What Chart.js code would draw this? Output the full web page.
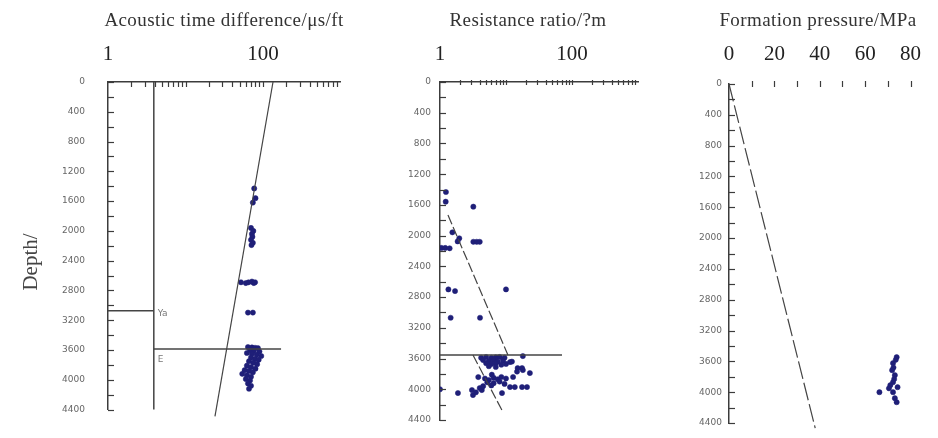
<!DOCTYPE html>
<html><head><meta charset="utf-8">
<script src="https://cdn.jsdelivr.net/npm/chart.js@4.4.1/dist/chart.umd.min.js"></script>
<style>
html,body{margin:0;padding:0;background:#fff;}
#wrap{position:relative;width:938px;height:438px;overflow:hidden;background:#fff;}
canvas{position:absolute;top:0;}
</style></head><body>
<div id="wrap">
<canvas id="c1" width="345" height="438" style="left:0"></canvas>
<canvas id="c2" width="305" height="438" style="left:345px"></canvas>
<canvas id="c3" width="288" height="438" style="left:650px"></canvas>
</div>
<script>
// ---------- data ----------
const depthTicks = [0,400,800,1200,1600,2000,2400,2800,3200,3600,4000,4400];
const depthTickLabels = ['0','400','800','1200','1600','2000','2400','2800','3200','3600','4000','4400'];
const depthMinorTicks = [0,200,400,600,800,1000,1200,1400,1600,1800,2000,2200,2400,2600,2800,3000,3200,3400,3600,3800,4000,4200,4400];
const logTickValues = [1,100];
const logTickLabels = ['1','100'];
const logMinorTicks = [2,3,4,5,6,7,8,9,10,20,30,40,50,60,70,80,90,100,200,300,400,500,600,700,800,900];
const pressureTickValues = [0,20,40,60,80];
const pressureTickLabels = ['0','20','40','60','80'];
const pressureMinorTicks = [10,20,30,40,50,60,70,80];

// Panel 1: acoustic time difference
const acousticValue = [77,80,74, 70,75,72,73,70,74,71, 52,60,65,72,76,79, 64,74,
  64,72,79,86,68,76,90,62,72,83,95,70,79,88,66,75,84,62,70,80,58,66,74,54,62,70,60,68,64,70,66];
const acousticDepth = [1430,1560,1620, 1960,2000,2040,2080,2120,2160,2190, 2690,2700,2690,2680,2700,2690, 3097,3097,
  3560,3565,3570,3575,3600,3610,3620,3640,3650,3660,3680,3700,3720,3730,3750,3770,3790,3810,3830,3850,3870,3880,3900,3920,3940,3960,3990,4010,4050,4080,4120];
const acousticTrendValue = [134.6, 24];
const acousticTrendDepth = [0, 4490];
const acousticBoundValue = [3.9, 3.9];
const acousticBoundDepth = [0, 4400];
const acousticTopValue = [1, 3.9];
const acousticTopDepth = [3071, 3071];
const acousticBaseValue = [3.9, 171];
const acousticBaseDepth = [3587, 3587];

// Panel 2: resistance ratio
const resistValue = [1.23,1.22,3.2,1.54,1.96,1.85,1.05,1.2,1.4,3.2,3.6,4.0,1.34,1.69,10,1.45,4.04,
  4.2,5,6,7,8,9.5,4.5,5.5,6.5,7.5,9,5,6,7,8.5,10,5.5,7,11.5,18,17.5,14.7,23,18,12.3,15,12.8,3.8,6.1,4.8,5.5,6.5,7.5,8.5,10,
  5.2,6.5,8,9.5,13.6,11.5,20.8,17.5,8.7,4.3,3.05,1.87,3.16,1.0,4.0,6,4.5,3.5];
const resistDepth = [1432,1558,1623,1957,2035,2075,2160,2160,2165,2080,2080,2080,2700,2722,2700,3069,3069,
  3590,3580,3590,3585,3580,3590,3620,3630,3620,3640,3625,3660,3670,3660,3680,3670,3700,3710,3646,3568,3724,3770,3789,3750,3640,3724,3840,3841,3810,3860,3880,3850,3870,3840,3860,
  3910,3920,3900,3930,3971,3971,3971,3971,4049,4010,4010,4049,4075,4000,3984,3950,3960,4040];
const resistTrendValue = [1.32, 10.7];
const resistTrendDepth = [1732, 3555];
const resistTrend2Value = [3.16, 9.0];
const resistTrend2Depth = [3555, 4297];
const resistBaseValue = [1, 70.5];
const resistBaseDepth = [3555, 3555];

// Panel 3: formation pressure
const pressureValue = [73.9,73.5,72.3,72.5,71.9,73.1,72.8,72.3,71.1,74.3,70.5,72.3,66.3,73.1,73.9];
const pressureDepth = [3545,3580,3623,3680,3714,3779,3830,3870,3909,3935,3950,4000,4000,4078,4130];
const hydroValue = [0, 38];
const hydroDepth = [0, 4467];

// ---------- helpers ----------
const pts = (xs, ys) => xs.map((v, i) => ({x: v, y: ys[i]}));
const AX = '#3c3c3c';
const PT = '#1f1f78';

const decor = {
  id: 'decor',
  afterDraw(chart, args, o) {
    const ctx = chart.ctx, xs = chart.scales.x, ys = chart.scales.y, ca = chart.chartArea;
    ctx.save();
    ctx.strokeStyle = AX; ctx.lineWidth = 1.2;
    (o.yTicks || []).forEach(v => {
      const y = Math.round(ys.getPixelForValue(v)) + 0.5;
      ctx.beginPath(); ctx.moveTo(ca.left, y); ctx.lineTo(ca.left + 6, y); ctx.stroke();
    });
    (o.xTicks || []).forEach(v => {
      const x = Math.round(xs.getPixelForValue(v)) + 0.5;
      ctx.beginPath(); ctx.moveTo(x, ca.top - o.xUp); ctx.lineTo(x, ca.top + o.xDown); ctx.stroke();
    });
    (o.texts || []).forEach(t => {
      ctx.save();
      ctx.font = t.font; ctx.fillStyle = t.color; ctx.textAlign = t.align || 'center';
      ctx.textBaseline = t.baseline || 'alphabetic';
      if (t.spacing) ctx.letterSpacing = t.spacing;
      let x = t.x, y = t.y;
      if (t.vx !== undefined) { x = xs.getPixelForValue(t.vx) + t.dx; y = ys.getPixelForValue(t.vy) + t.dy; }
      ctx.translate(x, y);
      if (t.rot) ctx.rotate(t.rot);
      ctx.fillText(t.text, 0, 0);
      ctx.restore();
    });
    ctx.restore();
  }
};

function yScale(width, pad) {
  return {
    type: 'linear', reverse: true, min: 0, max: 4400,
    afterBuildTicks: s => { s.ticks = depthTicks.map(v => ({value: v})); },
    ticks: {callback: (v) => depthTickLabels[depthTicks.indexOf(v)],
      font: {family: 'DejaVu Sans', size: 9}, color: '#666', padding: pad, autoSkip: false},
    grid: {display: false, drawTicks: false},
    border: {display: true, color: AX, width: 1.5},
    afterFit: s => { s.width = width; }
  };
}
function logXScale(height, pad) {
  return {
    type: 'logarithmic', position: 'top', min: 1, max: 1000,
    afterBuildTicks: s => { s.ticks = logTickValues.map(v => ({value: v})); },
    ticks: {callback: (v) => logTickLabels[logTickValues.indexOf(v)], font: {family: 'Liberation Serif', size: 21},
      color: '#222', padding: pad, maxRotation: 0, autoSkip: false},
    grid: {display: false, drawTicks: false},
    border: {display: true, color: AX, width: 1.5},
    afterFit: s => { s.height = height; }
  };
}
function lineDs(xv, yv, dash, w) {
  return {data: pts(xv, yv), showLine: true, pointRadius: 0, borderColor: '#444', borderWidth: w || 1.2,
    borderDash: dash || [], clip: false, fill: false};
}
function ptDs(xv, yv) {
  return {data: pts(xv, yv), pointRadius: 2.6, pointBackgroundColor: PT, pointBorderColor: PT, pointBorderWidth: 0.5, showLine: false};
}
const common = {responsive: false, animation: false, devicePixelRatio: 1};
const TITLE_FONT = '19px "Liberation Serif"';

// ---------- chart 1 ----------
new Chart(document.getElementById('c1'), {
  type: 'scatter',
  data: {datasets: [
    lineDs(acousticTrendValue, acousticTrendDepth, [], 1.2),
    lineDs(acousticBoundValue, acousticBoundDepth, [], 1.5),
    lineDs(acousticTopValue, acousticTopDepth, [], 1.5),
    lineDs(acousticBaseValue, acousticBaseDepth, [], 1.5),
    ptDs(acousticValue, acousticDepth)
  ]},
  options: Object.assign({}, common, {
    layout: {padding: {left: 0, right: 4.5, top: 0, bottom: 15}},
    scales: {x: logXScale(82, 15), y: yScale(108, 23)},
    plugins: {legend: {display: false}, tooltip: {enabled: false},
      decor: {yTicks: depthMinorTicks, xTicks: logMinorTicks, xUp: 0, xDown: 5, texts: [
        {text: 'Acoustic time difference/\u03bcs/ft', x: 224, y: 26, font: TITLE_FONT, spacing: '0.4px', color: '#333'},
        {text: 'Depth/', x: 37, y: 262, rot: -Math.PI / 2, font: '21px "Liberation Serif"', color: '#444'},
        {text: 'Ya', vx: 3.9, vy: 3071, dx: 4, dy: 5, align: 'left', font: '9px "DejaVu Sans"', color: '#777'},
        {text: 'E', vx: 3.9, vy: 3587, dx: 4, dy: 13, align: 'left', font: '9px "DejaVu Sans"', color: '#777'}
      ]}}
  }),
  plugins: [decor]
});

// ---------- chart 2 ----------
new Chart(document.getElementById('c2'), {
  type: 'scatter',
  data: {datasets: [
    lineDs(resistTrendValue, resistTrendDepth, [10, 3], 1.2),
    lineDs(resistTrend2Value, resistTrend2Depth, [10, 3], 1.2),
    lineDs(resistBaseValue, resistBaseDepth, [], 1.5),
    ptDs(resistValue, resistDepth)
  ]},
  options: Object.assign({}, common, {
    layout: {padding: {left: 0, right: 12, top: 0, bottom: 18}},
    scales: {x: logXScale(82, 15), y: yScale(95, 9)},
    plugins: {legend: {display: false}, tooltip: {enabled: false},
      decor: {yTicks: depthMinorTicks, xTicks: logMinorTicks, xUp: 2, xDown: 3, texts: [
        {text: 'Resistance ratio/?m', x: 183, y: 26, font: TITLE_FONT, spacing: '0.4px', color: '#333'}
      ]}}
  }),
  plugins: [decor]
});

// ---------- chart 3 ----------
new Chart(document.getElementById('c3'), {
  type: 'scatter',
  data: {datasets: [
    lineDs(hydroValue, hydroDepth, [18, 4], 1.2),
    ptDs(pressureValue, pressureDepth)
  ]},
  options: Object.assign({}, common, {
    layout: {padding: {left: 0, right: 12, top: 0, bottom: 15}},
    scales: {
      x: {type: 'linear', position: 'top', min: 0, max: 80,
        afterBuildTicks: s => { s.ticks = pressureTickValues.map(v => ({value: v})); },
        ticks: {callback: (v) => pressureTickLabels[pressureTickValues.indexOf(v)], font: {family: 'Liberation Serif', size: 21},
          color: '#222', padding: 17, maxRotation: 0, autoSkip: false},
        grid: {display: false, drawTicks: false},
        border: {display: false},
        afterFit: s => { s.height = 84; }
      },
      y: yScale(79, 7)
    },
    plugins: {legend: {display: false}, tooltip: {enabled: false},
      decor: {yTicks: depthMinorTicks, xTicks: pressureMinorTicks, xUp: 3, xDown: 3, texts: [
        {text: 'Formation pressure/MPa', x: 168, y: 26, font: TITLE_FONT, spacing: '0.4px', color: '#333'}
      ]}}
  }),
  plugins: [decor]
});
</script>
</body></html>
